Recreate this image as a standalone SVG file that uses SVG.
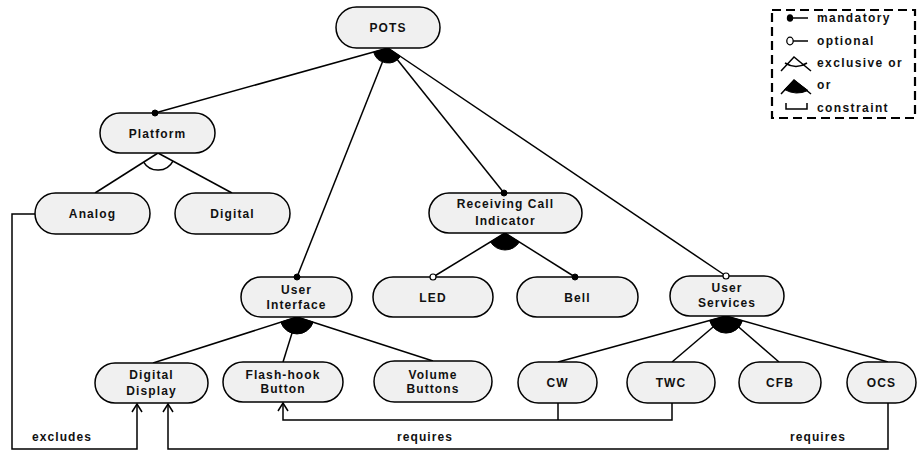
<svg xmlns="http://www.w3.org/2000/svg" width="918" height="451" viewBox="0 0 918 451">
  <defs>
    <style>
      .node rect { fill: #f0f0f0; stroke: #000; stroke-width: 1.5; }
      text { font-family: "Liberation Sans", Arial, sans-serif; font-weight: bold; font-size: 12px; fill: #111; }
      .nt { text-anchor: middle; letter-spacing: 1.1px; }
      .lg { letter-spacing: 1.4px; }
      .edge { stroke: #000; stroke-width: 1.5; fill: none; }
      .dot { fill: #000; stroke: #000; stroke-width: 1; }
      .opt { fill: #fff; stroke: #000; stroke-width: 1.2; }
      .orfan { fill: #000; stroke: #000; stroke-width: 1; }
      .xorarc { fill: none; stroke: #000; stroke-width: 1.5; }
      .cons { stroke: #000; stroke-width: 1.5; fill: none; }
    </style>
    <marker id="openArrow" markerWidth="12" markerHeight="12" refX="11" refY="6" orient="auto" markerUnits="userSpaceOnUse" viewBox="0 0 12 12">
      <path d="M3,1 L11,6 L3,11" fill="none" stroke="#000" stroke-width="1.5"/>
    </marker>
  </defs>

  <!-- feature tree edges -->
  <g id="connectors">
    <line class="edge" x1="388" y1="48" x2="155" y2="113"/>
    <line class="edge" x1="388" y1="48" x2="297" y2="277"/>
    <line class="edge" x1="388" y1="48" x2="504" y2="193"/>
    <line class="edge" x1="388" y1="48" x2="726" y2="276"/>
    <path class="orfan" d="M388,48 L400.4,56.4 A15,15 0 0 1 373.6,52.1 Z"/>

    <line class="edge" x1="158" y1="153" x2="95" y2="193"/>
    <line class="edge" x1="158" y1="153" x2="232" y2="193"/>
    <path class="xorarc" d="M173,161.1 A17,17 0 0 1 143.6,162.1"/>

    <line class="edge" x1="505" y1="233" x2="433" y2="277"/>
    <line class="edge" x1="505" y1="233" x2="575" y2="277"/>
    <path class="orfan" d="M505,233 L519.4,242 A17,17 0 0 1 490.5,241.9 Z"/>

    <line class="edge" x1="297" y1="317" x2="153" y2="363"/>
    <line class="edge" x1="297" y1="317" x2="283" y2="362"/>
    <line class="edge" x1="297" y1="317" x2="433" y2="361"/>
    <path class="orfan" d="M297,317 L313.2,322.1 A17,17 0 0 1 280.8,322.1 Z"/>

    <line class="edge" x1="726" y1="316" x2="558" y2="362"/>
    <line class="edge" x1="726" y1="316" x2="672" y2="362"/>
    <line class="edge" x1="726" y1="316" x2="779" y2="362"/>
    <line class="edge" x1="726" y1="316" x2="888" y2="362"/>
    <path class="orfan" d="M726,316 L742.4,320.7 A17,17 0 0 1 709.6,320.5 Z"/>

    <!-- cross-tree constraints -->
    <polyline class="cons" points="35,214 12,214 12,449 137,449 137,404" marker-end="url(#openArrow)"/>
    <polyline class="cons" points="558,403 558,420"/>
    <polyline class="cons" points="672,403 672,420 283,420 283,403" marker-end="url(#openArrow)"/>
    <polyline class="cons" points="888,403 888,449 168,449 168,404" marker-end="url(#openArrow)"/>
    <text x="62" y="441" class="nt">excludes</text>
    <text x="425" y="441" class="nt">requires</text>
    <text x="818" y="441" class="nt">requires</text>
  </g>

  <g id="pots" class="node">
    <rect x="336" y="7" width="104" height="41" rx="20.5"/>
    <text x="388" y="31.5" class="nt">POTS</text>
  </g>
  <g id="platform" class="node">
    <rect x="100" y="113" width="115" height="40" rx="20"/>
    <text x="157.5" y="137.5" class="nt">Platform</text>
  </g>
  <g id="analog" class="node">
    <rect x="35" y="193" width="115" height="41" rx="20.5"/>
    <text x="92.5" y="218" class="nt">Analog</text>
  </g>
  <g id="digital" class="node">
    <rect x="175" y="193" width="115" height="41" rx="20.5"/>
    <text x="232.5" y="218" class="nt">Digital</text>
  </g>
  <g id="receiving-call-indicator" class="node">
    <rect x="429" y="193" width="153" height="40" rx="20"/>
    <text x="505.5" y="208" class="nt">Receiving Call</text>
    <text x="505.5" y="225" class="nt">Indicator</text>
  </g>
  <g id="user-interface" class="node">
    <rect x="241" y="277" width="111" height="40" rx="20"/>
    <text x="296.5" y="294" class="nt">User</text>
    <text x="296.5" y="308.5" class="nt">Interface</text>
  </g>
  <g id="led" class="node">
    <rect x="373" y="277" width="120" height="40" rx="20"/>
    <text x="433" y="301.5" class="nt">LED</text>
  </g>
  <g id="bell" class="node">
    <rect x="517" y="277" width="121" height="40" rx="20"/>
    <text x="577.5" y="301.5" class="nt">Bell</text>
  </g>
  <g id="user-services" class="node">
    <rect x="670" y="276" width="114" height="40" rx="20"/>
    <text x="727" y="292" class="nt">User</text>
    <text x="727" y="307" class="nt">Services</text>
  </g>
  <g id="digital-display" class="node">
    <rect x="95" y="363" width="113" height="40" rx="20"/>
    <text x="151.5" y="379" class="nt">Digital</text>
    <text x="151.5" y="394.5" class="nt">Display</text>
  </g>
  <g id="flash-hook-button" class="node">
    <rect x="223" y="362" width="120" height="40" rx="20"/>
    <text x="283" y="378.5" class="nt">Flash-hook</text>
    <text x="283" y="393" class="nt">Button</text>
  </g>
  <g id="volume-buttons" class="node">
    <rect x="374" y="361" width="118" height="41" rx="20.5"/>
    <text x="433" y="378.5" class="nt">Volume</text>
    <text x="433" y="392.5" class="nt">Buttons</text>
  </g>
  <g id="cw" class="node">
    <rect x="518" y="362" width="79" height="41" rx="20.5"/>
    <text x="557.5" y="386.5" class="nt">CW</text>
  </g>
  <g id="twc" class="node">
    <rect x="627" y="362" width="88" height="41" rx="20.5"/>
    <text x="671" y="386.5" class="nt">TWC</text>
  </g>
  <g id="cfb" class="node">
    <rect x="739" y="362" width="82" height="41" rx="20.5"/>
    <text x="780" y="386.5" class="nt">CFB</text>
  </g>
  <g id="ocs" class="node">
    <rect x="847" y="362" width="69" height="41" rx="20.5"/>
    <text x="881.5" y="386.5" class="nt">OCS</text>
  </g>

  <!-- mandatory / optional end markers -->
  <g id="edge-ends">
    <circle class="dot" cx="155" cy="113" r="3"/>
    <circle class="dot" cx="297" cy="277" r="3"/>
    <circle class="dot" cx="504" cy="193" r="3"/>
    <circle class="dot" cx="575" cy="277" r="3"/>
    <circle class="opt" cx="433" cy="277" r="3"/>
    <circle class="opt" cx="726" cy="276" r="3"/>
  </g>

  <!-- notation key -->
  <g id="legend">
    <rect x="772" y="10" width="143" height="108" fill="none" stroke="#000" stroke-width="2.2" stroke-dasharray="9,5"/>
    <line class="edge" x1="790" y1="18" x2="808" y2="18"/>
    <ellipse cx="790" cy="18" rx="3.2" ry="3.8" fill="#000"/>
    <text x="817" y="22" class="lg">mandatory</text>
    <line class="edge" x1="793" y1="41" x2="808" y2="41"/>
    <ellipse cx="790" cy="41" rx="3.2" ry="3.8" fill="#fff" stroke="#000" stroke-width="1.3"/>
    <text x="817" y="45" class="lg">optional</text>
    <polyline class="edge" points="781,71 794,57 811,71"/>
    <path class="xorarc" d="M785,63 Q796,70 807,63"/>
    <text x="817" y="67" class="lg">exclusive or</text>
    <polyline class="edge" points="781,94 794,80 811,94"/>
    <path class="orfan" d="M794,80 L784.5,89.5 Q796,96 808,90.5 Z"/>
    <text x="817" y="89" class="lg">or</text>
    <polyline class="edge" points="786,103 786,109 807,109 807,103"/>
    <text x="817" y="112" class="lg">constraint</text>
  </g>
</svg>
